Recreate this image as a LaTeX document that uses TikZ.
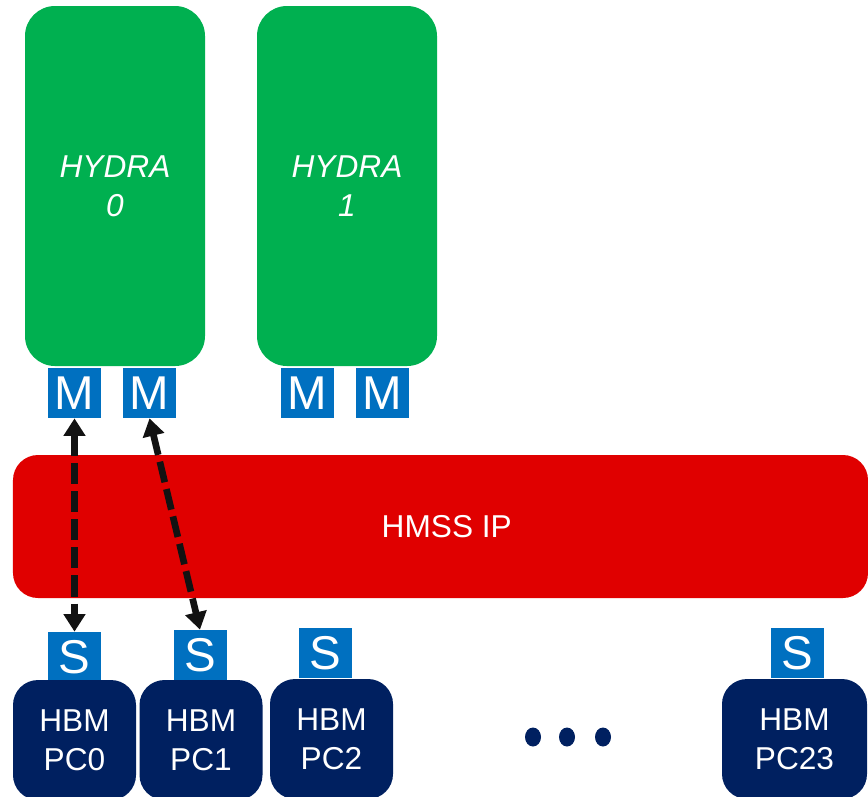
\documentclass[tikz,border=0pt]{standalone}
\usepackage{fontspec}
\setmainfont{Liberation Sans}
\usetikzlibrary{arrows.meta}

\definecolor{hydragreen}{RGB}{0,176,80}
\definecolor{portblue}{RGB}{0,112,192}
\definecolor{hmssred}{RGB}{224,0,0}
\definecolor{hbmnavy}{RGB}{0,32,96}

\tikzset{
  hydra/.style={fill=hydragreen, rounded corners=0.6cm, minimum width=3.6cm, minimum height=7.2cm,
    text=white, align=center, font=\fontsize{18}{22}\selectfont\itshape},
  port/.style={fill=portblue, minimum width=1.06cm, minimum height=1cm, inner sep=0pt,
    text=white, font=\fontsize{27}{30}\selectfont},
  hmss/.style={fill=hmssred, rounded corners=0.5cm, minimum width=17.1cm, minimum height=2.86cm,
    text=white, font=\fontsize{18}{22}\selectfont},
  hbm/.style={fill=hbmnavy, rounded corners=0.5cm, minimum width=2.46cm, minimum height=2.4cm,
    text=white, align=center, font=\fontsize{18}{22}\selectfont},
  link/.style={draw=black!93, line width=3.8pt, dash pattern=on 12pt off 4pt,
    {Triangle[length=10pt,width=12pt]}-{Triangle[length=10pt,width=12pt]}}
}

\begin{document}
\begin{tikzpicture}
  \useasboundingbox (0,0) rectangle (17.36,-15.92);
  % masters
  \node[hydra] (hydra0) at (2.3,-3.72) {HYDRA\\0};
  \node[hydra] (hydra1) at (6.94,-3.72) {HYDRA\\1};
  \node[port] (m0) at (1.49,-7.86) {M};
  \node[port] (m1) at (2.99,-7.86) {M};
  \node[port] (m2) at (6.14,-7.86) {M};
  \node[port] (m3) at (7.64,-7.86) {M};
  % interconnect
  \node[hmss] (hmss) at (8.81,-10.53) {\hspace{0.25cm}HMSS IP};
  % slaves
  \node[port] (s0) at (1.49,-13.14) {S};
  \node[port] (s1) at (4.0,-13.1) {S};
  \node[port] (s2) at (6.51,-13.06) {S};
  \node[port] (s23) at (15.95,-13.06) {S};
  \node[hbm] (pc0) at (1.49,-14.8) {HBM\\PC0};
  \node[hbm] (pc1) at (4.02,-14.8) {HBM\\PC1};
  \node[hbm] (pc2) at (6.63,-14.78) {HBM\\PC2};
  \node[hbm, minimum width=2.9cm] (pc23) at (15.89,-14.78) {HBM\\PC23};
  \foreach \x in {10.66,11.34,12.06}
    \fill[hbmnavy] (\x,-14.74) ellipse (0.16cm and 0.19cm);
  % paths
  \draw[link] (m0.south) -- (s0.north);
  \draw[link] (m1.south) -- (s1.north);
\end{tikzpicture}
\end{document}
